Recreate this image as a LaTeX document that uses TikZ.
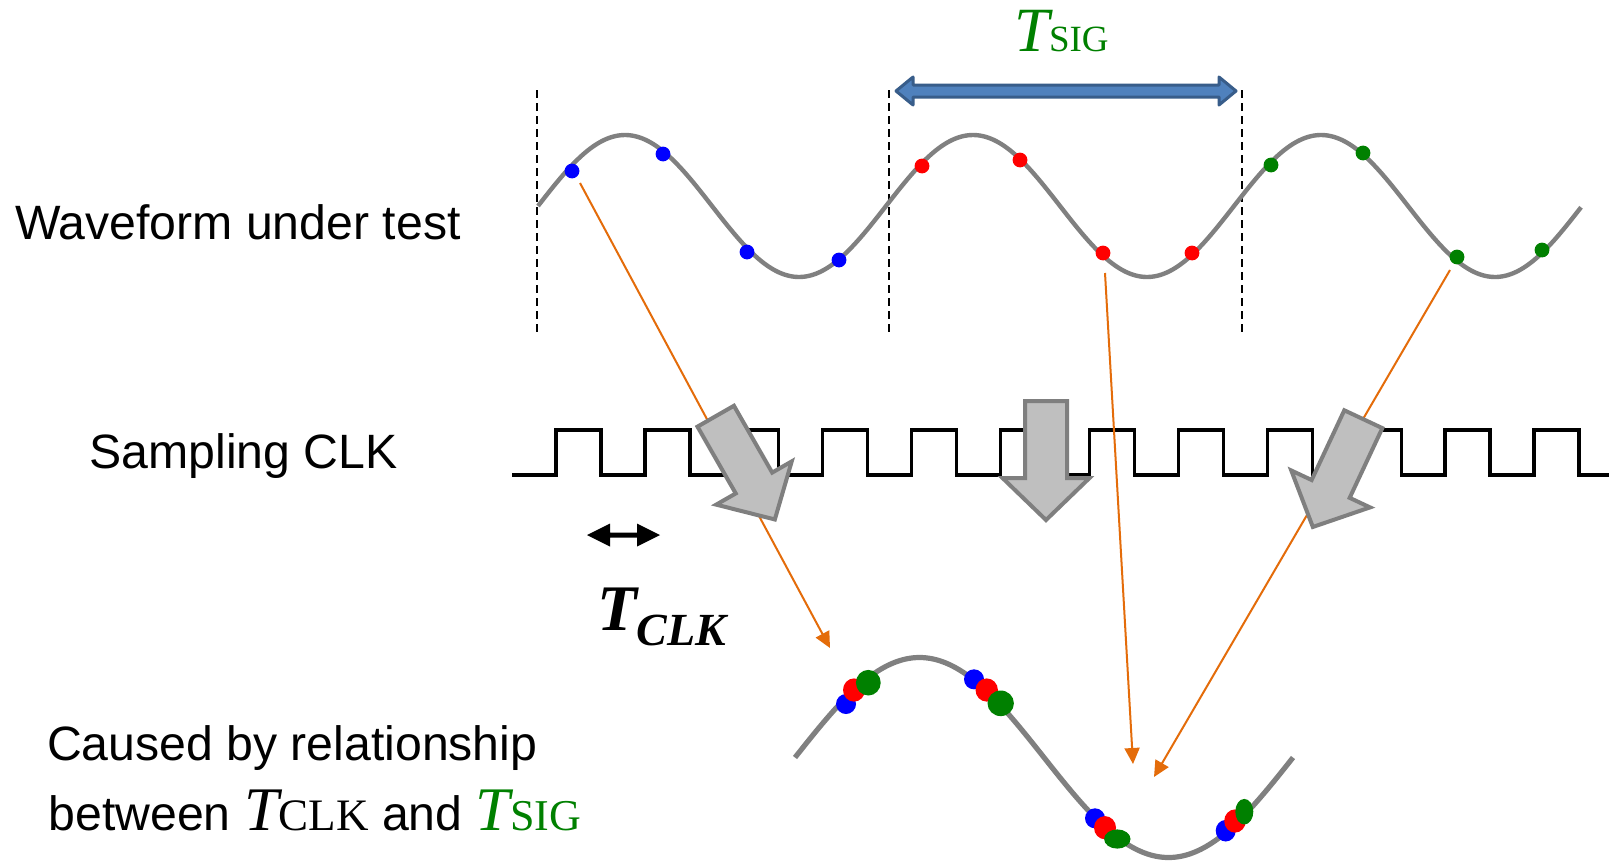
\documentclass[tikz,border=0pt]{standalone}
\usepackage{fontspec}
\setmainfont{Liberation Sans}
\newfontfamily\tnr{Liberation Serif}
\usetikzlibrary{arrows.meta}
\definecolor{wavegray}{HTML}{808080}
\definecolor{dotblue}{HTML}{0000FF}
\definecolor{dotred}{HTML}{FF0000}
\definecolor{dotgreen}{HTML}{008000}
\definecolor{sig}{HTML}{008000}
\definecolor{orangeln}{HTML}{E46C0A}
\definecolor{blkfill}{HTML}{BFBFBF}
\definecolor{blkdraw}{HTML}{7F7F7F}
\definecolor{dblfill}{HTML}{4F81BD}
\definecolor{dbldraw}{HTML}{385D8A}
\tikzset{
  lbl/.style={anchor=base west, inner sep=0pt, outer sep=0pt, font=\fontsize{24.1pt}{28pt}\selectfont},
  wave/.style={draw=wavegray, line width=2.2pt},
  bigwave/.style={draw=wavegray, line width=2.6pt},
  period/.style={draw=black, line width=1.2pt, dash pattern=on 4pt off 2.5pt},
  clk/.style={draw=black, line width=1.6pt},
  mapline/.style={draw=orangeln, line width=1pt, -{Triangle[length=8pt,width=7.5pt]}},
  blockarrow/.style={fill=blkfill, draw=blkdraw, line width=2pt, line join=miter},
}
\newcommand{\blockarrowshape}{(0,-21) -- (77,-21) -- (77,-43.5) -- (119,0) -- (77,43.5) -- (77,21) -- (0,21) -- cycle}
\begin{document}
\begin{tikzpicture}[x=0.5pt, y=-0.5pt]
\useasboundingbox (0,0) rectangle (1609,862);
\fill[white] (0,0) rectangle (1609,862);

% labels
\node[lbl] (wlab) at (15,239.5) {Waveform under test};
\node[lbl] (slab) at (89.5,468) {Sampling CLK};
\node[lbl] (clab1) at (47,760) {Caused by relationship};
\node[lbl] (clab2) at (48.5,830) {between {\tnr\fontsize{31}{36}\selectfont\itshape T}{\tnr\fontsize{22.5}{25}\selectfont CLK} and {\color{sig}{\tnr\fontsize{31}{36}\selectfont\itshape T}{\tnr\fontsize{22}{25}\selectfont SIG}}};
\node[lbl] (tsig) at (1014,51) {\color{sig}{\tnr\fontsize{31.5}{36}\selectfont\itshape T}{\tnr\fontsize{18.5}{21}\selectfont SIG}};
\node[lbl] (tclk) at (597,630) {\tnr\bfseries\itshape{\fontsize{32.5}{36}\selectfont T}\raisebox{-7.5pt}{\fontsize{23}{27}\selectfont CLK}};

% period markers
\draw[period] (537,90) -- (537,334);
\draw[period] (889,90) -- (889,334);
\draw[period] (1242,90) -- (1242,334);

% T_SIG double arrow
\draw[fill=dblfill, draw=dbldraw, line width=1.5pt, line join=round]
  (896,91) -- (913,77) -- (913,85) -- (1219,85) -- (1219,77) -- (1236,91)
  -- (1219,105) -- (1219,97) -- (913,97) -- (913,105) -- cycle;

% waveform under test
\draw[wave] plot[domain=538:1581, samples=200, smooth] (\x, {206 - 71*sin((\x-538)/348*360)});

% samples on the top waveform
\foreach \p in {(572,171),(663,154),(747,252),(839,260)} \fill[dotblue] \p circle[radius=3.7pt];
\foreach \p in {(922,166),(1020,160),(1103,253),(1192,253)} \fill[dotred] \p circle[radius=3.7pt];
\foreach \p in {(1271,165),(1363,153),(1457,257),(1542,250)} \fill[dotgreen] \p circle[radius=3.7pt];

% sampling clock
\draw[clk] (512,475) \foreach \k in {0,...,11} { -- ({556+88.9*\k},475) -- ({556+88.9*\k},430) -- ({601+88.9*\k},430) -- ({601+88.9*\k},475) } -- (1609,475);

% T_CLK small double arrow
\fill[black] (587,535) -- (610,523.5) -- (610,532.5) -- (637,532.5) -- (637,523.5) -- (660,535)
  -- (637,546.5) -- (637,537.5) -- (610,537.5) -- (610,546.5) -- cycle;

% resulting waveform
\draw[bigwave] plot[domain=795:1293, samples=200, smooth] (\x, {757.5 - 100*sin((\x-795)/498*360)});

% clusters on resulting waveform
\fill[dotblue] (846,704) circle[radius=5pt];
\fill[dotred] (854,690) ellipse[x radius=5.5pt, y radius=5.8pt];
\fill[dotgreen] (868.3,682.7) ellipse[x radius=6.2pt, y radius=6.4pt];
\fill[dotblue] (974,679.3) circle[radius=5pt];
\fill[dotred] (986.7,690) ellipse[x radius=5.6pt, y radius=5.8pt];
\fill[dotgreen] (1000.7,703.3) ellipse[x radius=6.6pt, y radius=6.4pt];
\fill[dotblue] (1095,818.3) circle[radius=5pt];
\fill[dotred] (1105,827.7) ellipse[x radius=5.5pt, y radius=5.8pt];
\fill[dotgreen] (1117.3,839) ellipse[x radius=6.6pt, y radius=4.8pt];
\fill[dotblue] (1225.7,830.7) ellipse[x radius=5pt, y radius=5.4pt];
\fill[dotred] (1235,821) ellipse[x radius=5.4pt, y radius=5.8pt];
\fill[dotgreen] (1244.3,811.7) ellipse[x radius=4.5pt, y radius=6.4pt];

% mapping connectors
\coordinate (s1) at (580,183);  \coordinate (e1) at (830,648);
\coordinate (s2) at (1105,273); \coordinate (e2) at (1133,764);
\coordinate (s3) at (1450,270); \coordinate (e3) at (1154,777);
\draw[mapline] (s1) -- (e1);
\draw[mapline] (s2) -- (e2);
\draw[mapline] (s3) -- (e3);

% block arrows
\begin{scope}[shift={(715.7,416.2)}, rotate=-60.2]
  \draw[blockarrow] \blockarrowshape;
\end{scope}
\begin{scope}[shift={(1046,401)}, rotate=-90]
  \draw[blockarrow] \blockarrowshape;
\end{scope}
\begin{scope}[shift={(1363.3,419.2)}, rotate=-115.1]
  \draw[blockarrow] \blockarrowshape;
\end{scope}
\end{tikzpicture}
\end{document}
